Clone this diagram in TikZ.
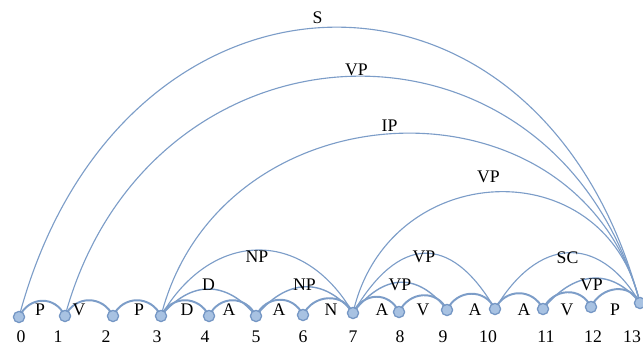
\documentclass[tikz,border=0pt]{standalone}
\usepackage{fontspec}
\setmainfont{Liberation Serif}
\usetikzlibrary{backgrounds}
\definecolor{arcblue}{RGB}{124,157,200}
\definecolor{tokfill}{RGB}{168,194,226}
\definecolor{tokdraw}{RGB}{116,150,196}

\begin{document}
\begin{tikzpicture}[x=0.025cm, y=0.025cm,
    tok/.style={circle, draw=tokdraw, fill=tokfill, line width=0.9pt,
                minimum size=0.28cm, inner sep=0pt},
    lab/.style={font=\fontsize{12.6}{14}\selectfont, inner sep=0pt},
    num/.style={font=\fontsize{12.6}{14}\selectfont, inner sep=0pt},
    leafarc/.style={draw=arcblue, line width=1.4pt},
    midarc/.style={draw=arcblue, line width=1pt},
    bigarc/.style={draw=arcblue, line width=0.8pt}]

    \useasboundingbox (0,0) rectangle (643,347);

    % words
    \foreach \k/\x/\y in {0/19/30, 1/65/31, 2/113/31, 3/161/31, 4/209/31, 5/256/31, 6/303/32,
                          7/353/34, 8/399/35, 9/447/37, 10/495/38, 11/543/38, 12/591/40, 13/640/44}
        \node[tok] (n\k) at (\x,\y) {};

    % indices
    \foreach \k/\x in {0/21, 1/58, 2/106, 3/157, 4/205, 5/256, 6/303, 7/353, 8/400, 9/443,
                       10/488, 11/546, 12/593, 13/632}
        \node[num] (i\k) at (\x,10) {\k};

    \begin{scope}[on background layer]
    % neighbour arcs
    \foreach \i/\j/\t/\x in {0/1/P/40, 1/2/V/79, 2/3/P/139, 3/4/D/187, 4/5/A/229, 5/6/A/279,
                             6/7/N/331, 7/8/A/382, 8/9/V/423, 9/10/A/475, 10/11/A/524,
                             11/12/V/567, 12/13/P/615} {
        \draw[leafarc] (n\i.center) .. controls +(10,21) and +(-10,21) .. (n\j.center);
        \node[lab] (t\i) at (\x,37) {\t};
    }

    % phrases
    \draw[midarc] (n3.center) .. controls +(30,36) and +(-30,36) .. (n5.center)
        node[lab, midway, shift={(0,4)}] {D};
    \draw[midarc] (n5.center) .. controls +(30,37) and +(-30,37) .. (n7.center)
        node[lab, midway, shift={(0,2)}] {NP};
    \draw[midarc] (n7.center) .. controls +(30,39) and +(-30,39) .. (n9.center)
        node[lab, midway, shift={(0,-3)}] {VP};
    \draw[midarc] (n11.center) .. controls +(30,37) and +(-30,37) .. (n13.center)
        node[lab, midway, shift={(0,-7)}] {VP};
    \draw[bigarc] (n3.center) .. controls +(50,86) and +(-50,86) .. (n7.center)
        node[lab, midway, shift={(0,-7)}] {NP};
    \draw[bigarc] (n7.center) .. controls +(45,77) and +(-45,77) .. (n10.center)
        node[lab, midway, shift={(0,-4)}] {VP};
    \draw[bigarc] (n10.center) .. controls +(42,71) and +(-42,71) .. (n13.center)
        node[lab, midway, shift={(0,-5)}] {SC};
    \draw[bigarc] (n7.center) .. controls +(35,155) and +(-35,155) .. (n13.center)
        node[lab, midway, shift={(-8,15)}] {VP};
    \draw[bigarc] (n3.center) .. controls +(60,235) and +(-60,235) .. (n13.center)
        node[lab, midway, shift={(-11,8)}] {IP};
    \draw[bigarc] (n1.center) .. controls +(85,311) and +(-85,311) .. (n13.center)
        node[lab, midway, shift={(4,6)}] {VP};
    \draw[bigarc] (n0.center) .. controls +(100,377) and +(-100,377) .. (n13.center)
        node[lab, midway, shift={(-12,10)}] {S};
    \end{scope}
\end{tikzpicture}
\end{document}
